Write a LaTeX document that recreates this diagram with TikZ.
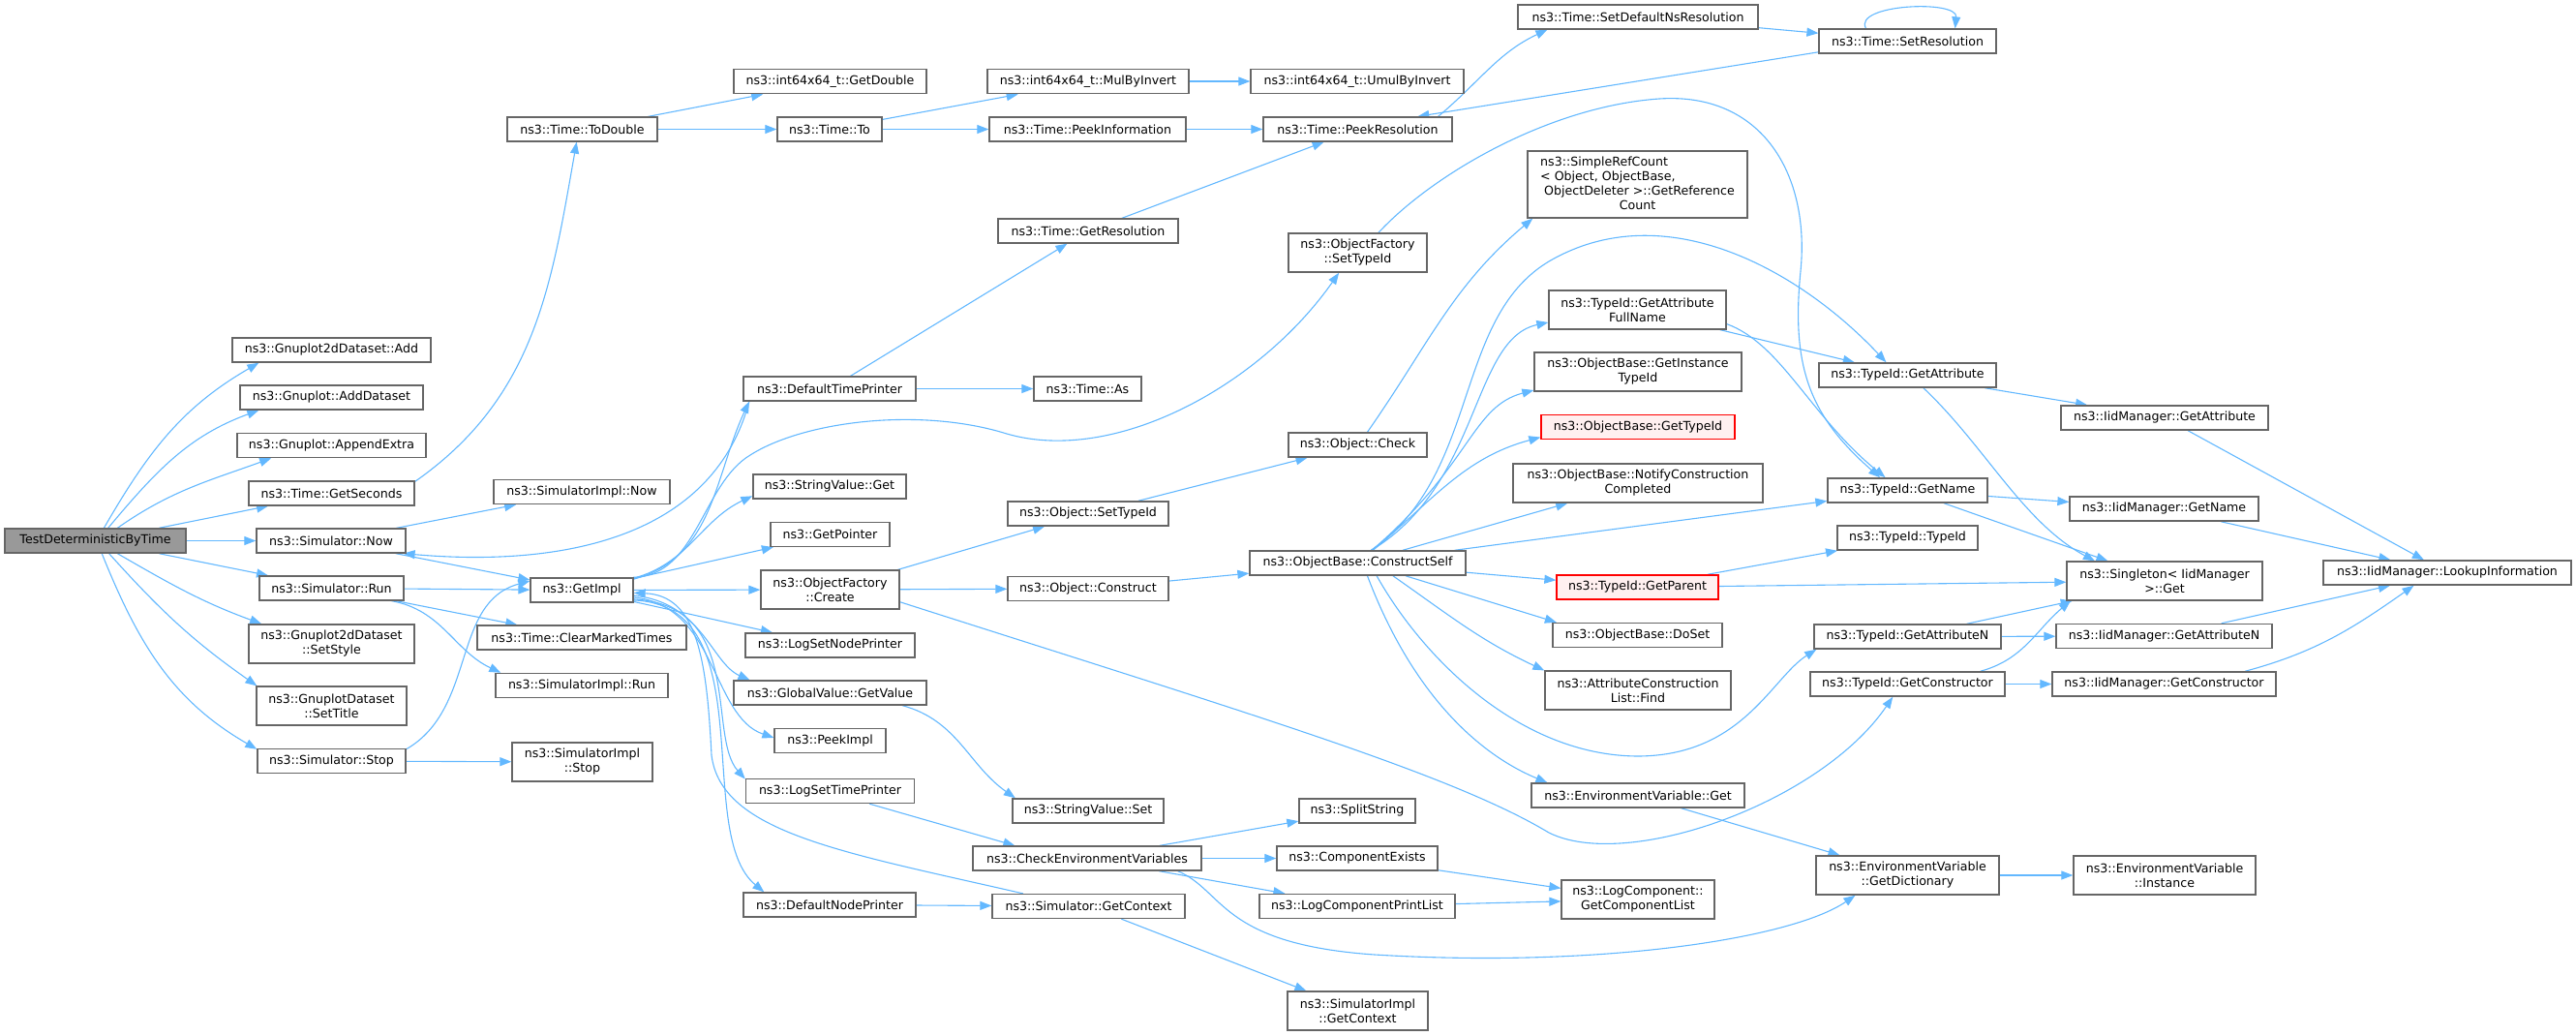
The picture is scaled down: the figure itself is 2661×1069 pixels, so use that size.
\documentclass[tikz,border=0pt]{standalone}
\usepackage{fontspec}
\setmainfont{DejaVu Sans}
\usetikzlibrary{arrows.meta}
\pgfdeclarelayer{background}
\pgfsetlayers{background,main}

\definecolor{edgeblue}{HTML}{63B8FF}
\definecolor{boxgray}{HTML}{666666}
\definecolor{rootgray}{HTML}{999999}
\definecolor{redfill}{HTML}{FFF0F0}

\begin{document}
\begin{tikzpicture}[x=1pt,y=1pt,>={Triangle[length=12pt,width=9pt]},
  fn/.style={draw=boxgray,fill=white,line width=1.3pt,font=\fontsize{12.6}{15}\selectfont,
    align=center,inner xsep=3pt,inner ysep=6.5pt,minimum height=25pt,minimum width=#1},
  rootfn/.style={fn=#1,fill=rootgray},
  redfn/.style={fn=#1,draw=red,fill=redfill},
  tall/.style={minimum height=40pt},
  callto/.style={draw=edgeblue,line width=1.1pt,->}]
  \useasboundingbox (0,0) rectangle (2661,-1069);

  % Caller
  \node[rootfn=187pt] (root) at (98.5,-558.5) {TestDeterministicByTime};

  % First level
  \node[fn=205pt] (gadd)     at (342.5,-361.5) {ns3::Gnuplot2dDataset::Add};
  \node[fn=189pt] (gaddset)  at (342.5,-410.5) {ns3::Gnuplot::AddDataset};
  \node[fn=195pt] (gappend)  at (342.5,-460)   {ns3::Gnuplot::AppendExtra};
  \node[fn=171pt] (getsec)   at (342.5,-509.5) {ns3::Time::GetSeconds};
  \node[fn=154pt] (simnow)   at (342,-558.5)   {ns3::Simulator::Now};
  \node[fn=149pt] (simrun)   at (342.5,-607.5) {ns3::Simulator::Run};
  \node[fn=171pt,tall] (setstyle) at (342.5,-665) {ns3::Gnuplot2dDataset\\::SetStyle};
  \node[fn=155pt,tall] (settitle) at (342.5,-729) {ns3::GnuplotDataset\\::SetTitle};
  \node[fn=153pt] (simstop)  at (342.5,-786)   {ns3::Simulator::Stop};

  % Second level
  \node[fn=155pt] (todouble) at (601.5,-133.5) {ns3::Time::ToDouble};
  \node[fn=182pt] (implnow)  at (601,-508)     {ns3::SimulatorImpl::Now};
  \node[fn=106pt] (getimpl)  at (601,-609.5)   {ns3::GetImpl};
  \node[fn=216pt] (clearmt)  at (601,-658.5)   {ns3::Time::ClearMarkedTimes};
  \node[fn=178pt] (implrun)  at (601,-708)     {ns3::SimulatorImpl::Run};
  \node[fn=145pt,tall] (implstop) at (601.5,-787) {ns3::SimulatorImpl\\::Stop};

  % Third level
  \node[fn=199pt] (getdouble) at (857.5,-84)   {ns3::int64x64\_t::GetDouble};
  \node[fn=108pt] (timeto)    at (857,-133.5)  {ns3::Time::To};
  \node[fn=178pt] (deftime)   at (857,-401.5)  {ns3::DefaultTimePrinter};
  \node[fn=158pt] (strget)    at (857,-502.5)  {ns3::StringValue::Get};
  \node[fn=123pt] (getptr)    at (857.5,-552)  {ns3::GetPointer};
  \node[fn=143pt,tall] (create) at (857.5,-609) {ns3::ObjectFactory\\::Create};
  \node[fn=175pt] (lognode)   at (857.5,-666.5) {ns3::LogSetNodePrinter};
  \node[fn=199pt] (gvget)     at (857.5,-715.5) {ns3::GlobalValue::GetValue};
  \node[fn=115pt] (peekimpl)  at (857.5,-765)  {ns3::PeekImpl};
  \node[fn=174pt] (logtime)   at (857.5,-817)  {ns3::LogSetTimePrinter};
  \node[fn=178pt] (defnode)   at (857,-934.5)  {ns3::DefaultNodePrinter};

  % Fourth level
  \node[fn=208pt] (mulby)     at (1124,-84)    {ns3::int64x64\_t::MulByInvert};
  \node[fn=203pt] (peekinfo)  at (1123.5,-133.5) {ns3::Time::PeekInformation};
  \node[fn=186pt] (getres)    at (1124,-238.5) {ns3::Time::GetResolution};
  \node[fn=111pt] (timeas)    at (1123.5,-401.5) {ns3::Time::As};
  \node[fn=166pt] (objsettid) at (1124,-530.5) {ns3::Object::SetTypeId};
  \node[fn=166pt] (construct) at (1124,-608)   {ns3::Object::Construct};
  \node[fn=156pt] (strset)    at (1124,-837.5) {ns3::StringValue::Set};
  \node[fn=236pt] (checkenv)  at (1123,-886.5) {ns3::CheckEnvironmentVariables};
  \node[fn=199pt] (simctx)    at (1124.5,-936) {ns3::Simulator::GetContext};

  % Fifth level
  \node[fn=220pt] (umulby)    at (1402,-84)    {ns3::int64x64\_t::UmulByInvert};
  \node[fn=195pt] (peekres)   at (1402.5,-133.5) {ns3::Time::PeekResolution};
  \node[fn=143pt,tall] (facsettid) at (1402.5,-261) {ns3::ObjectFactory\\::SetTypeId};
  \node[fn=143pt] (check)     at (1402.5,-459.5) {ns3::Object::Check};
  \node[fn=223pt] (cself)     at (1402.5,-581.5) {ns3::ObjectBase::ConstructSelf};
  \node[fn=120pt] (splitstr)  at (1402,-837.5) {ns3::SplitString};
  \node[fn=166pt] (compex)    at (1402,-886.5) {ns3::ComponentExists};
  \node[fn=202pt] (logprint)  at (1402,-936)   {ns3::LogComponentPrintList};
  \node[fn=145pt,tall] (implctx) at (1402.5,-1044) {ns3::SimulatorImpl\\::GetContext};

  % Sixth level
  \node[fn=248pt] (setdefns)  at (1692,-17.5)  {ns3::Time::SetDefaultNsResolution};
  \node[fn=227pt,minimum height=69pt,inner ysep=4pt] (refcount) at (1691.5,-190.5)
    {\begin{tabular}{@{}l@{}}ns3::SimpleRefCount\\< Object, ObjectBase,\\\hspace{4pt}ObjectDeleter >::GetReference\\\multicolumn{1}{@{}c@{}}{Count}\end{tabular}};
  \node[fn=183pt,tall] (attrfull) at (1691.5,-320) {ns3::TypeId::GetAttribute\\FullName};
  \node[fn=214pt,tall] (insttid)  at (1692,-384) {ns3::ObjectBase::GetInstance\\TypeId};
  \node[redfn=200pt] (obtid)      at (1692,-441) {ns3::ObjectBase::GetTypeId};
  \node[fn=258pt,tall] (notify)   at (1692,-499) {ns3::ObjectBase::NotifyConstruction\\Completed};
  \node[redfn=167pt] (getparent)  at (1691.5,-606.5) {ns3::TypeId::GetParent};
  \node[fn=175pt] (doset)         at (1691.5,-656) {ns3::ObjectBase::DoSet};
  \node[fn=192pt,tall] (acfind)   at (1692,-713) {ns3::AttributeConstruction\\List::Find};
  \node[fn=220pt] (envget)        at (1692,-821.5) {ns3::EnvironmentVariable::Get};
  \node[fn=158pt,tall] (complist) at (1692,-929) {ns3::LogComponent::\\GetComponentList};

  % Seventh level
  \node[fn=183pt] (setres)   at (1970.5,-42.5)  {ns3::Time::SetResolution};
  \node[fn=183pt] (tidattr)  at (1970.5,-387.5) {ns3::TypeId::GetAttribute};
  \node[fn=165pt] (tidname)  at (1970.5,-506.5) {ns3::TypeId::GetName};
  \node[fn=145pt] (tidtid)   at (1970.5,-555.5) {ns3::TypeId::TypeId};
  \node[fn=193pt] (tidattrn) at (1970.5,-657.5) {ns3::TypeId::GetAttributeN};
  \node[fn=201pt] (tidctor)  at (1970.5,-706.5) {ns3::TypeId::GetConstructor};
  \node[fn=189pt,tall] (getdict) at (1970.5,-904) {ns3::EnvironmentVariable\\::GetDictionary};

  % Eighth level
  \node[fn=214pt] (iidattr)  at (2236,-431.5)   {ns3::IidManager::GetAttribute};
  \node[fn=195pt] (iidname)  at (2235.5,-525.5) {ns3::IidManager::GetName};
  \node[fn=202pt,tall] (singleton) at (2236,-600) {ns3::Singleton< IidManager\\>::Get};
  \node[fn=223pt] (iidattrn) at (2235.5,-657)   {ns3::IidManager::GetAttributeN};
  \node[fn=231pt] (iidctor)  at (2235.5,-706.5) {ns3::IidManager::GetConstructor};
  \node[fn=188pt,tall] (envinst) at (2236,-904) {ns3::EnvironmentVariable\\::Instance};
  \node[fn=256pt] (lookup)   at (2528,-591.5)   {ns3::IidManager::LookupInformation};

  \begin{pgfonlayer}{background}
  % Calls from the test
  \draw[callto] (root.56) to[out=60,in=210] (gadd.190);
  \draw[callto] (root.45) to[out=50,in=200] (gaddset.190);
  \draw[callto] (root.30) to[out=35,in=200] (gappend.192);
  \draw[callto] (root) -- (getsec);
  \draw[callto] (root) -- (simnow);
  \draw[callto] (root) -- (simrun);
  \draw[callto] (root.330) to[out=-30,in=160] (setstyle.164);
  \draw[callto] (root.317) to[out=-48,in=145] (settitle.165);
  \draw[callto] (root.297) to[out=-68,in=150] (simstop.171);

  % Time conversions
  \draw[callto] (getsec.8) to[out=35,in=260] (todouble.246);
  \draw[callto] (todouble) -- (getdouble);
  \draw[callto] (todouble) -- (timeto);
  \draw[callto] (timeto) -- (mulby);
  \draw[callto] (timeto) -- (peekinfo);
  \draw[callto] (mulby) -- (umulby);
  \draw[callto] (peekinfo) -- (peekres);
  \draw[callto] (getres) -- (peekres);
  \draw[callto] (peekres.9) to[out=40,in=205] (setdefns.188);
  \draw[callto] (setdefns) -- (setres);
  \draw[callto] (setres.163) .. controls +(-14,25) and +(3,30) .. (setres.15);
  \draw[callto] (setres.187) -- (peekres.12);

  % Simulator
  \draw[callto] (simnow) -- (implnow);
  \draw[callto] (simnow) -- (getimpl);
  \draw[callto] (simrun) -- (getimpl);
  \draw[callto] (simrun) -- (clearmt);
  \draw[callto] (simrun.348) to[out=-10,in=155] (implrun.171);
  \draw[callto] (simstop.9) to[out=30,in=195] (getimpl.170);
  \draw[callto] (simstop) -- (implstop);

  % GetImpl
  \draw[callto] (getimpl.12) to[out=15,in=245] (deftime.189);
  \draw[callto] (getimpl.14) .. controls (720,-595) and (725,-500) .. (775,-470)
    .. controls (830,-435) and (950,-420) .. (1040,-448)
    .. controls (1150,-480) and (1300,-400) .. (facsettid.227);
  \draw[callto] (getimpl.13) to[out=15,in=205] (strget.187);
  \draw[callto] (getimpl) -- (getptr);
  \draw[callto] (getimpl) -- (create);
  \draw[callto] (getimpl) -- (lognode);
  \draw[callto] (getimpl.354) .. controls (725,-622) and (735,-685) .. (gvget.171);
  \draw[callto] (getimpl.352) .. controls (740,-625) and (735,-740) .. (peekimpl.177);
  \draw[callto] (getimpl.350) .. controls (770,-625) and (730,-760) .. (logtime.172);
  \draw[callto] (getimpl.349) .. controls (790,-625) and (715,-860) .. (defnode.169);

  % Printers and context
  \draw[callto] (deftime) -- (getres);
  \draw[callto] (deftime) -- (timeas);
  \draw[callto] (deftime.189) to[out=255,in=-5] (simnow.350);
  \draw[callto] (defnode) -- (simctx);
  \draw[callto] (simctx.169) .. controls (870,-880) and (745,-860) .. (735,-780)
    .. controls (730,-680) and (720,-615) .. (getimpl.357);
  \draw[callto] (simctx) -- (implctx);

  % Logging
  \draw[callto] (logtime.342) -- (checkenv.170);
  \draw[callto] (checkenv) -- (splitstr);
  \draw[callto] (checkenv) -- (compex);
  \draw[callto] (checkenv) -- (logprint);
  \draw[callto] (checkenv.352) .. controls (1265,-920) and (1260,-975) .. (1420,-986)
    .. controls (1650,-1000) and (1850,-970) .. (getdict.201);
  \draw[callto] (compex) -- (complist);
  \draw[callto] (logprint) -- (complist);
  \draw[callto] (gvget.350) to[out=-15,in=145] (strset.170);

  % Object creation
  \draw[callto] (create) -- (objsettid);
  \draw[callto] (create) -- (construct);
  \draw[callto] (create.350) .. controls (1300,-740) and (1500,-800) .. (1600,-860)
    .. controls (1680,-900) and (1880,-830) .. (tidctor.221);
  \draw[callto] (objsettid) -- (check);
  \draw[callto] (construct) -- (cself);
  \draw[callto] (check.53) to[out=55,in=220] (refcount.198);
  \draw[callto] (facsettid.44) .. controls (1480,-180) and (1600,-110) .. (1714,-102)
    .. controls (1820,-95) and (1870,-180) .. (1860,-280)
    .. controls (1850,-380) and (1870,-430) .. (tidname.155);

  % ConstructSelf
  \draw[callto] (cself.43) .. controls (1530,-500) and (1520,-350) .. (attrfull.188);
  \draw[callto] (cself.42) .. controls (1520,-480) and (1520,-420) .. (insttid.190);
  \draw[callto] (cself.40) to[out=40,in=195] (obtid.186);
  \draw[callto] (cself.44) .. controls (1530,-490) and (1500,-330) .. (1600,-270)
    .. controls (1720,-200) and (1860,-280) .. (tidattr.149);
  \draw[callto] (cself) -- (notify);
  \draw[callto] (cself) -- (tidname);
  \draw[callto] (cself) -- (getparent);
  \draw[callto] (cself.345) -- (doset.171);
  \draw[callto] (cself.340) to[out=-35,in=155] (acfind.168);
  \draw[callto] (cself.326) .. controls (1470,-680) and (1570,-780) .. (1691,-781)
    .. controls (1800,-781) and (1830,-700) .. (tidattrn.188);
  \draw[callto] (cself.307) .. controls (1460,-720) and (1530,-780) .. (envget.172);

  % TypeId and IidManager
  \draw[callto] (attrfull) -- (tidattr);
  \draw[callto] (attrfull.351) .. controls (1840,-355) and (1870,-430) .. (tidname.150);
  \draw[callto] (getparent) -- (tidtid);
  \draw[callto] (getparent) -- (singleton);
  \draw[callto] (tidattr) -- (iidattr);
  \draw[callto] (tidattr.321) .. controls (2050,-460) and (2090,-540) .. (singleton.164);
  \draw[callto] (tidname) -- (iidname);
  \draw[callto] (tidname) -- (singleton);
  \draw[callto] (tidattrn) -- (singleton);
  \draw[callto] (tidattrn) -- (iidattrn);
  \draw[callto] (tidctor.10) to[out=15,in=220] (singleton.192);
  \draw[callto] (tidctor) -- (iidctor);
  \draw[callto] (iidattr) -- (lookup);
  \draw[callto] (iidname) -- (lookup);
  \draw[callto] (iidattrn) -- (lookup);
  \draw[callto] (iidctor.9) to[out=15,in=215] (lookup.201);

  % Environment
  \draw[callto] (envget) -- (getdict);
  \draw[callto] (getdict) -- (envinst);
  \end{pgfonlayer}
\end{tikzpicture}
\end{document}
